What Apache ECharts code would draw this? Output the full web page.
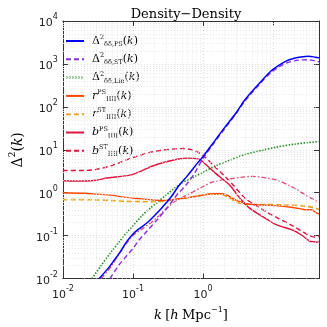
<!DOCTYPE html>
<html>
<head>
<meta charset="utf-8">
<script src="https://cdn.jsdelivr.net/npm/echarts@6/dist/echarts.min.js"></script>
<style>html,body{margin:0;padding:0;background:#fff}#c{width:327px;height:327px}</style>
</head>
<body>
<div id="c"></div>
<script>
// ---- data ----
const kPS   = [0.033,0.045,0.055,0.066,0.08,0.098,0.115,0.134,0.17,0.205,0.25,0.3,0.36,0.45,0.6,0.83,1.0,1.5,2,3,4,6,9,12,15,20,25,32,40,45];
const dPS   = [0.01,0.018,0.028,0.042,0.07,0.105,0.135,0.16,0.22,0.3,0.42,0.59,0.85,1.45,2.5,4.9,7,17,32,75,150,320,650,920,1150,1350,1450,1500,1440,1400];
const kST   = [0.047,0.062,0.08,0.1,0.122,0.16,0.224,0.3,0.376,0.45,0.56,0.76,1.0,1.5,2,3,4,6,9,12,15,20,25,32,40,45];
const dST   = [0.01,0.02,0.033,0.05,0.079,0.13,0.24,0.42,0.69,1.0,1.45,2.9,6.3,16,30,72,140,300,600,850,1030,1180,1240,1250,1180,1120];
const kLin  = [0.026,0.035,0.049,0.065,0.082,0.1,0.134,0.18,0.224,0.3,0.376,0.5,0.69,1.0,1.5,2.5,4,7,11,20,30,45];
const dLin  = [0.01,0.02,0.042,0.075,0.12,0.17,0.29,0.45,0.6,0.9,1.2,1.7,2.2,3.0,4.2,5.9,7.8,9.8,11.5,13.5,14.6,15.5];
const kRPS  = [0.01,0.02,0.03,0.049,0.07,0.1,0.134,0.19,0.246,0.3,0.45,0.61,1.0,1.4,1.8,2.2,2.5,3.0,4,5,8,11,18,25,30,35,40,45];
const rPS   = [1.0,0.97,0.93,0.88,0.8,0.75,0.72,0.68,0.66,0.67,0.72,0.77,0.88,0.95,0.95,0.88,0.78,0.66,0.56,0.53,0.51,0.5,0.46,0.42,0.4,0.4,0.35,0.32];
const kRST  = [0.01,0.02,0.03,0.049,0.08,0.134,0.2,0.3,0.45,0.61,1.0,1.4,1.8,2.3,2.8,3.5,4.5,8,15,25,30,38,45];
const rST   = [0.69,0.69,0.68,0.66,0.63,0.62,0.61,0.65,0.72,0.77,0.88,0.94,0.92,0.78,0.64,0.56,0.53,0.53,0.52,0.5,0.48,0.45,0.41];
const kBPS  = [0.01,0.015,0.02,0.03,0.042,0.06,0.095,0.13,0.19,0.32,0.45,0.6,0.75,0.89,1.0,1.48,2.4,3.3,4.5,8.2,11,19,25,33,38,45];
const bPS   = [1.9,1.88,1.88,1.95,2.2,2.35,2.6,3.2,4.2,5.4,6.1,6.4,6.3,6.0,5.2,2.9,1.5,0.77,0.45,0.24,0.18,0.135,0.105,0.075,0.072,0.07];
const kBST  = [0.01,0.02,0.03,0.052,0.08,0.115,0.18,0.26,0.4,0.53,0.65,0.8,1.0,1.48,2.0,2.7,4.06,6,8.2,12,19,25,33,40,45];
const bST   = [3.3,3.3,3.5,4.4,5.8,7.1,8.8,9.8,10.5,10.7,10.2,9.2,7.4,4.0,2.5,1.5,0.72,0.48,0.35,0.25,0.17,0.13,0.1,0.092,0.1];
const kX    = [0.035,0.05,0.066,0.1,0.14,0.18,0.24,0.29,0.41,0.61,1.0,1.4,2.4,4,5,7.4,12,18,22,30,40,45];
const xRat  = [0.01,0.02,0.042,0.1,0.15,0.2,0.3,0.41,0.65,0.9,1.4,1.8,2.1,2.35,2.4,2.25,1.9,1.4,1.17,0.85,0.66,0.6];
const xTicks = [0.01,0.1,1,10];
const xMinor = [];
[0.01,0.1,1,10].forEach(d=>{for(let m=2;m<=9;m++){const v=+(d*m).toPrecision(3); if(v<=45) xMinor.push(v);}});
const yMinor = [];
[0.01,0.1,1,10,100,1000].forEach(d=>{for(let m=2;m<=9;m++) yMinor.push(+(d*m).toPrecision(3));});

const XMIN=0.01, XMAX=45, YMIN=0.01, YMAX=10000;
const zip=(a,b)=>a.map((v,i)=>[v,b[i]]);

const labelsRich = {
  dPS:'{m|Δ}{s|2}{u|δδ,PS}{m|(}{i|k}{m|)}',
  dST:'{m|Δ}{s|2}{u|δδ,ST}{m|(}{i|k}{m|)}',
  dLin:'{m|Δ}{s|2}{u|δδ,Lin}{m|(}{i|k}{m|)}',
  rPS:'{i|r}{s|PS}{u|IIII}{m|(}{i|k}{m|)}',
  rST:'{i|r}{s|ST}{u|IIII}{m|(}{i|k}{m|)}',
  bPS:'{i|b}{s|PS}{u|IIII}{m|(}{i|k}{m|)}',
  bST:'{i|b}{s|ST}{u|IIII}{m|(}{i|k}{m|)}'
};
const serif='"DejaVu Serif", "Liberation Serif", serif';
const richLeg = {
  m:{fontFamily:serif,fontSize:11,lineHeight:14,color:'#000',verticalAlign:'middle'},
  i:{fontFamily:serif,fontStyle:'italic',fontSize:11,lineHeight:14,color:'#000'},
  s:{fontFamily:serif,fontSize:6.5,lineHeight:7,verticalAlign:'top',color:'#000'},
  u:{fontFamily:serif,fontSize:6.5,lineHeight:7,verticalAlign:'bottom',color:'#000'}
};
const names=['dPS','dST','dLin','rPS','rST','bPS','bST'];
const legends = names.map((n,i)=>({
  data:[n], left:60, top:29+i*18.3, orient:'vertical',
  itemWidth:18, itemHeight:10, itemGap:0,
  itemStyle:{opacity:0, borderWidth:0},
  formatter:(nm)=>labelsRich[nm],
  textStyle:{rich:richLeg, padding:[0,0,0,3]},
  selectedMode:false
}));

function lineSeries(name,k,v,color,type,width,z){
  return {name, type:'line', data:zip(k,v), showSymbol:false, symbol:'none', smooth:0.3,
    lineStyle:{color, type, width}, itemStyle:{color}, z:z||3, animation:false, silent:true};
}
const series=[
  lineSeries('dLin',kLin,dLin,'#228b22',[1.5,1.5],1.6,3),
  lineSeries('rST',kRST,rST,'#e8a317',[5,3],1.6,3),
  lineSeries('rPS',kRPS,rPS,'#ff4500','solid',1.4,4),
  lineSeries('bST',kBST,bST,'#dc143c',[5,3],1.4,4),
  lineSeries('bPS',kBPS,bPS,'#dc143c','solid',1.4,4),
  lineSeries('xRat',kX,xRat,'#e0476f',[5,2,1.5,2],1.3,3),
  lineSeries('dST',kST,dST,'#8a2be2',[5,3],1.4,5),
  lineSeries('dPS',kPS,dPS,'#0000ff','solid',1.5,6),
];
// minor grid lines through the axes
series.push({type:'line', data:[], silent:true, z:1,
  markLine:{silent:true, symbol:'none', label:{show:false}, animation:false,
    lineStyle:{color:'#e4e4e4', type:[1,2], width:1},
    data: xMinor.map(v=>({xAxis:v})).concat(yMinor.map(v=>({yAxis:v})))}});

const tickFmt = v=>{const e=Math.round(Math.log10(v)); return '{b|10}{s|'+e+'}';};
const tickRich = {b:{fontFamily:'"DejaVu Sans", sans-serif',fontSize:11,lineHeight:16,verticalAlign:'bottom',color:'#222'},
                  s:{fontFamily:'"DejaVu Sans", sans-serif',fontSize:8,lineHeight:16,verticalAlign:'top',color:'#222'}};
const axBase = {type:'log', logBase:10,
  axisLine:{show:true, lineStyle:{color:'#333',width:1}},
  axisTick:{show:true, inside:true, length:5, lineStyle:{color:'#333'}},
  splitLine:{show:true, lineStyle:{color:'#dcdcdc', type:[1,2], width:1}}};

const option = {
  animation:false,
  backgroundColor:'#fff',
  title:{text:'Density−Density', left:181, top:3, textAlign:'center',
    textStyle:{fontFamily:serif, fontWeight:'normal', fontSize:13, color:'#000'}},
  legend: legends,
  grid:{left:43, right:8, top:21, bottom:45, show:false},
  xAxis:[
    Object.assign({}, axBase, {min:XMIN, max:XMAX, position:'bottom',
      axisLabel:{formatter:tickFmt, rich:tickRich, margin:6, showMaxLabel:false, customValues:xTicks},
      name:'{i|k} {m|[}{i|h} {m|Mpc}{s|−1}{m|]}', nameLocation:'middle', nameGap:24,
      nameTextStyle:{rich:{i:{fontFamily:serif,fontStyle:'italic',fontSize:13,lineHeight:20,color:'#000'},
        m:{fontFamily:serif,fontSize:13,lineHeight:20,color:'#000'},
        s:{fontFamily:serif,fontSize:8,lineHeight:20,verticalAlign:'top',color:'#000'}}}}),
    Object.assign({}, axBase, {min:XMIN, max:XMAX, position:'top', axisLabel:{show:false}, splitLine:{show:false}})
  ],
  yAxis:[
    Object.assign({}, axBase, {min:YMIN, max:YMAX, position:'left',
      axisLabel:{formatter:tickFmt, rich:tickRich, margin:5},
      name:'{m|Δ}{s|2}{m|(}{i|k}{m|)}', nameLocation:'middle', nameGap:26, nameRotate:90,
      nameTextStyle:{rich:{i:{fontFamily:serif,fontStyle:'italic',fontSize:14,lineHeight:20,color:'#000'},
        m:{fontFamily:serif,fontSize:14,lineHeight:20,color:'#000'},
        s:{fontFamily:serif,fontSize:9,lineHeight:20,verticalAlign:'top',color:'#000'}}}}),
    Object.assign({}, axBase, {min:YMIN, max:YMAX, position:'right', axisLabel:{show:false}, splitLine:{show:false}})
  ],
  series
};
const chart = echarts.init(document.getElementById('c'), null, {renderer:'canvas'});
chart.setOption(option);
</script>
</body>
</html>
